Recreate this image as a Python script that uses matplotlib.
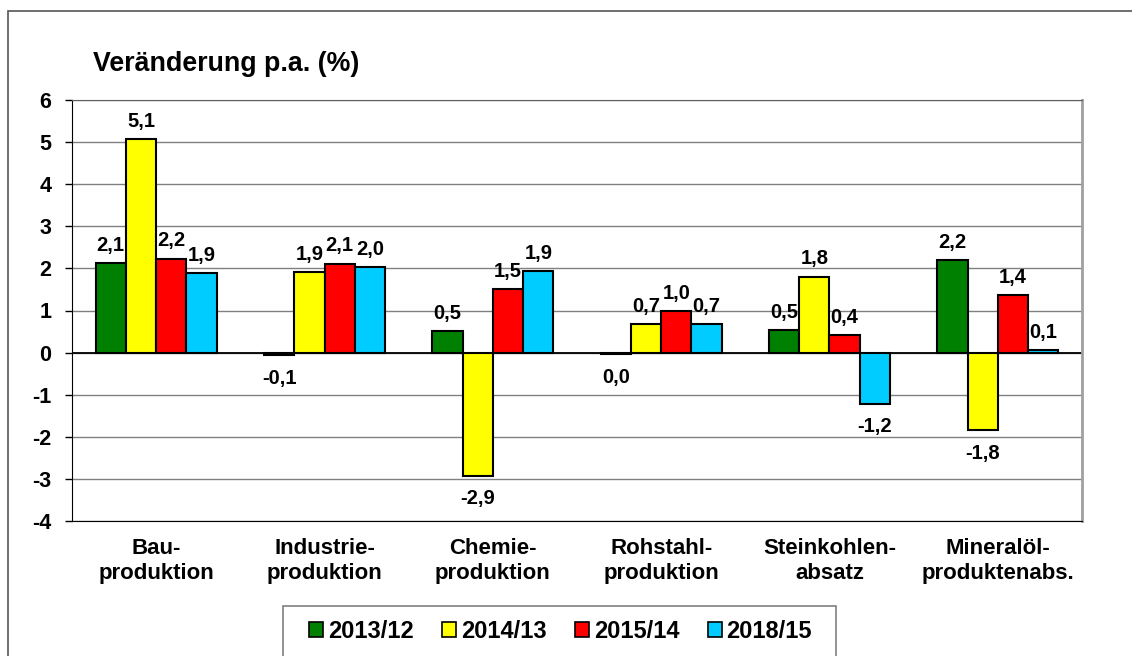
import matplotlib.pyplot as plt
import numpy as np
from matplotlib.patches import Rectangle

categories = ['Bau-\nproduktion', 'Industrie-\nproduktion', 'Chemie-\nproduktion',
              'Rohstahl-\nproduktion', 'Steinkohlen-\nabsatz', 'Mineralöl-\nproduktenabs.']
series = ['2013/12', '2014/13', '2015/14', '2018/15']
colors = ['#008000', '#FFFF00', '#FF0000', '#00CCFF']

# bar heights, printed labels kept as shown
v_2013 = [2.12, -0.06, 0.51, -0.04, 0.54, 2.20]
v_2014 = [5.07, 1.91, -2.92, 0.68, 1.80, -1.84]
v_2015 = [2.23, 2.11, 1.50, 0.99, 0.42, 1.37]
v_2018 = [1.88, 2.03, 1.93, 0.68, -1.21, 0.05]
lab_2013 = ['2,1', '-0,1', '0,5', '0,0', '0,5', '2,2']
lab_2014 = ['5,1', '1,9', '-2,9', '0,7', '1,8', '-1,8']
lab_2015 = ['2,2', '2,1', '1,5', '1,0', '0,4', '1,4']
lab_2018 = ['1,9', '2,0', '1,9', '0,7', '-1,2', '0,1']
yticks = [-4, -3, -2, -1, 0, 1, 2, 3, 4, 5, 6]

values = [v_2013, v_2014, v_2015, v_2018]
labels = [lab_2013, lab_2014, lab_2015, lab_2018]

plt.rcParams['font.family'] = ['Liberation Sans', 'DejaVu Sans']
plt.rcParams['font.weight'] = 'bold'

W, H = 1132, 656
fig = plt.figure(figsize=(W / 100, H / 100), dpi=100)
ax = fig.add_axes([72 / W, 1 - 521 / H, 1010 / W, 421 / H])

# outer frame, only the top and left edges fall inside the image
fig.patches.append(Rectangle((8 / W, -0.1), 1.2, 1 - 11 / H + 0.1,
                             transform=fig.transFigure, fill=False,
                             edgecolor='#555555', linewidth=1.2, zorder=0))
# legend box, its bottom edge lies below the image
fig.patches.append(Rectangle((283 / W, -0.1), 553 / W, 1 - 606 / H + 0.1,
                             transform=fig.transFigure, fill=False,
                             edgecolor='#808080', linewidth=1.2, zorder=0))

x = np.arange(len(categories))
w = 0.18
for i, (vals, labs) in enumerate(zip(values, labels)):
    pos = x + (i - 1.5) * w
    ax.bar(pos, vals, w, color=colors[i], edgecolor='black', linewidth=1.5,
           label=series[i], zorder=3)
    for px, v, t in zip(pos, vals, labs):
        off = 6 if v >= 0 else -10
        ax.annotate(t, (px, v), xytext=(0, off), textcoords='offset points',
                    ha='center', va='bottom' if v >= 0 else 'top',
                    fontsize=14.5, fontweight='bold', zorder=4)

ax.set_xlim(-0.5, len(categories) - 0.5)
ax.set_ylim(-4, 6)
ax.set_yticks(yticks)
ax.set_yticklabels([str(t) for t in yticks], fontsize=15.5, fontweight='bold')
ax.set_xticks(x)
ax.set_xticklabels(categories, fontsize=16, fontweight='bold', linespacing=1.3)
ax.tick_params(axis='x', length=0, pad=12)
ax.tick_params(axis='y', length=5, width=1, direction='out', pad=10)
ax.grid(axis='y', color='#808080', linewidth=1, zorder=0)
ax.axhline(0, color='black', linewidth=1.3, zorder=2)
ax.spines['left'].set_color('black')
ax.spines['bottom'].set_color('black')
ax.spines['top'].set_color('#606060')
ax.spines['right'].set_color('#A0A0A0')
ax.spines['right'].set_linewidth(2)

fig.text(93 / W, 1 - 71 / H, 'Veränderung p.a. (%)', fontsize=19.3,
         fontweight='bold', va='baseline', ha='left')

leg = ax.legend(loc='center left', bbox_to_anchor=(309 / W, 1 - 631 / H),
                bbox_transform=fig.transFigure, ncol=4, frameon=False,
                fontsize=17, handlelength=0.6, handleheight=0.6,
                handletextpad=0.2, columnspacing=1.2, borderpad=0,
                borderaxespad=0)
for t in leg.get_texts():
    t.set_fontweight('bold')
for h in leg.legend_handles:
    h.set_linewidth(1.2)

fig.savefig('out.png', dpi=100)
